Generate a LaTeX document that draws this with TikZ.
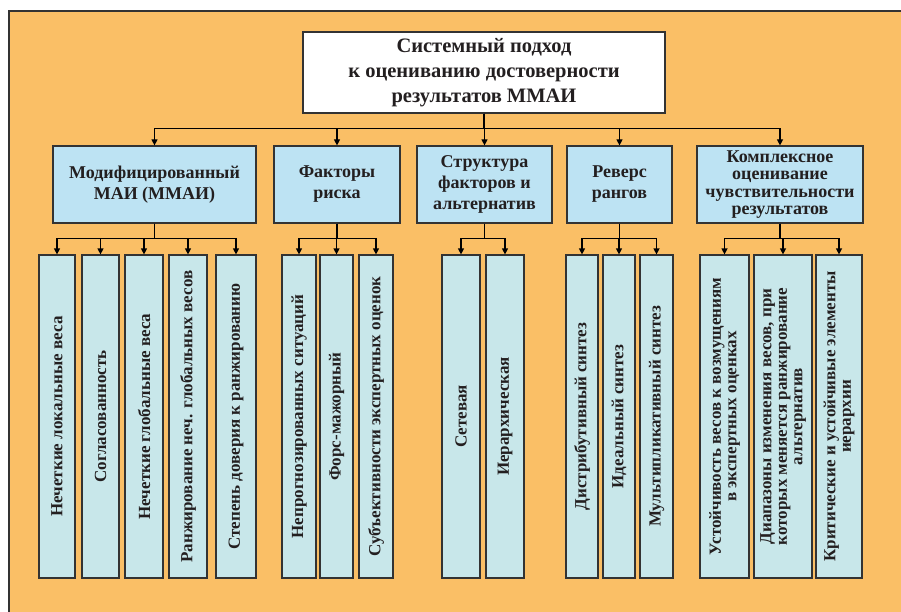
\documentclass[tikz,border=0pt]{standalone}
\usepackage{fontspec}
\setmainfont{Liberation Serif}
\usetikzlibrary{arrows.meta}
\definecolor{bgorange}{RGB}{250,191,102}
\definecolor{groupblue}{RGB}{189,227,243}
\definecolor{itemcyan}{RGB}{200,231,234}
\definecolor{boxline}{RGB}{51,51,51}
\definecolor{ink}{RGB}{35,31,32}
\tikzset{
    headbox/.style={draw=boxline,line width=1.2pt,fill=white,minimum width=362pt,minimum height=81pt,align=center,text=ink,font=\fontsize{20.5}{25}\selectfont\bfseries},
    groupbox/.style={draw=boxline,line width=1.2pt,fill=groupblue,minimum height=77pt,align=center,text=ink,font=\fontsize{18}{21}\selectfont\bfseries},
    itembox/.style={draw=boxline,line width=1.2pt,fill=itemcyan,rotate=90,minimum width=323pt,inner sep=1pt,align=center,text=ink,font=\fontsize{17}{15.5}\selectfont\bfseries},
    link/.style={line width=1.2pt,-{Triangle[length=6pt,width=6pt]}}
}
\begin{document}
\begin{tikzpicture}[x=1pt,y=-1pt]
        \useasboundingbox (0,0) rectangle (901,612);
        \fill[bgorange] (9,11) rectangle (901,612);
        \draw[boxline,line width=1.2pt] (9,612) -- (9,11) -- (901,11);
        \node[headbox] (top) at (484,72.5){Системный подход\\к оцениванию достоверности\\результатов ММАИ};
        \node[groupbox,minimum width=203pt] (mmai) at (154.5,184.5){Модифицированный\\МАИ (ММАИ)};
        \node[groupbox,minimum width=126pt] (risk) at (337,184.5){Факторы\\риска};
        \node[groupbox,minimum width=135pt] (struct) at (484.5,184.5){Структура\\факторов и\\альтернатив};
        \node[groupbox,minimum width=105pt] (revers) at (619.5,184.5){Реверс\\рангов};
        \node[groupbox,minimum width=166pt,font=\fontsize{18}{17.5}\selectfont\bfseries] (sens) at (780,184.5){Комплексное\\оценивание\\чувствительности\\результатов};
        \node[itembox,minimum height=36pt] (loc) at (57,416.5){Нечеткие локальные веса};
        \node[itembox,minimum height=37pt] (consist) at (100.5,416.5){Согласованность};
        \node[itembox,minimum height=38pt] (glob) at (144,416.5){Нечеткие глобальные веса};
        \node[itembox,minimum height=38pt] (rank) at (188,416.5){Ранжирование неч. глобальных весов};
        \node[itembox,minimum height=40pt] (trust) at (236,416.5){Степень доверия к ранжированию};
        \node[itembox,minimum height=34pt] (unpred) at (299,416.5){Непрогнозированных ситуаций};
        \node[itembox,minimum height=33pt] (force) at (336.5,416.5){Форс-мажорный};
        \node[itembox,minimum height=34pt] (subj) at (376,416.5){Субъективности экспертных оценок};
        \node[itembox,minimum height=38pt] (net) at (461,416.5){Сетевая};
        \node[itembox,minimum height=38pt] (hier) at (505,416.5){Иерархическая};
        \node[itembox,minimum height=32pt] (distr) at (582,416.5){Дистрибутивный синтез};
        \node[itembox,minimum height=32pt] (ideal) at (619,416.5){Идеальный синтез};
        \node[itembox,minimum height=33pt] (mult) at (656.5,416.5){Мультипликативный синтез};
        \node[itembox,minimum height=49pt] (stab) at (724.5,416.5){Устойчивость весов к возмущениям\\в экспертных оценках};
        \node[itembox,minimum height=58pt] (range) at (783,416.5){Диапазоны изменения весов, при\\которых меняется ранжирование\\альтернатив};
        \node[itembox,minimum height=46pt] (crit) at (839,416.5){Критические и устойчивые элементы\\иерархии};
        \draw[link] (top.south) -- ++(0,15) -| (mmai.north);
        \draw[link] (top.south) -- ++(0,15) -| (risk.north);
        \draw[link] (top.south) -- ++(0,15) -| (struct.north);
        \draw[link] (top.south) -- ++(0,15) -| (revers.north);
        \draw[link] (top.south) -- ++(0,15) -| (sens.north);
        \draw[link] (mmai.south) -- ++(0,15) -| (loc.east);
        \draw[link] (mmai.south) -- ++(0,15) -| (consist.east);
        \draw[link] (mmai.south) -- ++(0,15) -| (glob.east);
        \draw[link] (mmai.south) -- ++(0,15) -| (rank.east);
        \draw[link] (mmai.south) -- ++(0,15) -| (trust.east);
        \draw[link] (risk.south) -- ++(0,15) -| (unpred.east);
        \draw[link] (risk.south) -- ++(0,15) -| (force.east);
        \draw[link] (risk.south) -- ++(0,15) -| (subj.east);
        \draw[link] (struct.south) -- ++(0,15) -| (net.east);
        \draw[link] (struct.south) -- ++(0,15) -| (hier.east);
        \draw[link] (revers.south) -- ++(0,15) -| (distr.east);
        \draw[link] (revers.south) -- ++(0,15) -| (ideal.east);
        \draw[link] (revers.south) -- ++(0,15) -| (mult.east);
        \draw[link] (sens.south) -- ++(0,15) -| (stab.east);
        \draw[link] (sens.south) -- ++(0,15) -| (range.east);
        \draw[link] (sens.south) -- ++(0,15) -| (crit.east);
    \end{tikzpicture}
\end{document}
